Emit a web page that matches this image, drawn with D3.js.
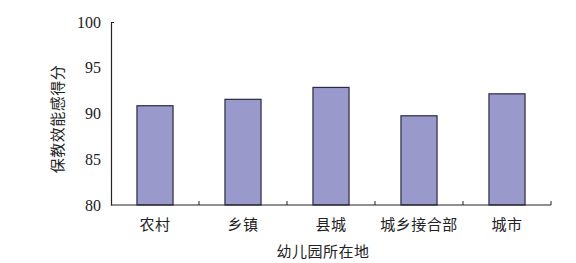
<!DOCTYPE html>
<html>
<head>
<meta charset="utf-8">
<script src="https://cdn.jsdelivr.net/npm/d3@7"></script>
<style>
  body { margin: 0; background: #fff; }
  text { fill: #222; }
</style>
</head>
<body>
<svg id="chart" width="576" height="263"></svg>
<script>
// data
var categories = ["农村", "乡镇", "县城", "城乡接合部", "城市"];
var scores = [90.85, 91.55, 92.85, 89.75, 92.15];
var yTicks = [80, 85, 90, 95, 100];

var svg = d3.select("#chart");
var mLeft = 111, mRight = 551, mTop = 22, mBottom = 205;

var x = d3.scaleBand().domain(categories).range([mLeft, mRight]).paddingInner(0.59).paddingOuter(0.295);
var y = d3.scaleLinear().domain([80, 100]).range([mBottom, mTop]);

var serif = "'Liberation Serif', 'Noto Sans CJK SC', serif";
var cjk = "'Noto Sans CJK SC', 'Liberation Serif', serif";

// bars
svg.selectAll("rect.bar")
  .data(scores)
  .enter().append("rect")
  .attr("class", "bar")
  .attr("x", function(d, i){ return x(categories[i]); })
  .attr("y", function(d){ return y(d); })
  .attr("width", x.bandwidth())
  .attr("height", function(d){ return mBottom - y(d); })
  .attr("fill", "#9999cc")
  .attr("stroke", "#2a2a44")
  .attr("stroke-width", 1.2);

// y axis
var yAxis = d3.axisLeft(y).tickValues(yTicks).tickSize(0).tickPadding(10);
var gy = svg.append("g").attr("transform", "translate(" + mLeft + ",0)").call(yAxis);
gy.select(".domain").attr("stroke", "#222").attr("stroke-width", 1.2);
gy.selectAll("text").attr("font-family", serif).attr("font-size", 16).attr("fill", "#222");
// only the top end has a small inward tick
gy.selectAll(".tick").filter(function(d){ return d === 100; })
  .append("line").attr("x1", 0).attr("x2", 3).attr("stroke", "#222");

// x axis
var gx = svg.append("g").attr("transform", "translate(0," + mBottom + ")");
gx.append("line").attr("x1", mLeft).attr("x2", mRight).attr("stroke", "#222").attr("stroke-width", 1.2);
var bounds = d3.range(1, categories.length + 1).map(function(i){ return mLeft + i * (mRight - mLeft) / categories.length; });
gx.selectAll("line.tk").data(bounds).enter().append("line")
  .attr("class", "tk")
  .attr("x1", function(d){ return d; }).attr("x2", function(d){ return d; })
  .attr("y1", 0).attr("y2", -4)
  .attr("stroke", "#222");
gx.selectAll("text").data(categories).enter().append("text")
  .attr("x", function(d){ return x(d) + x.bandwidth() / 2; })
  .attr("y", 25)
  .attr("text-anchor", "middle")
  .attr("font-family", cjk)
  .attr("font-size", 15)
  .attr("letter-spacing", 0.5)
  .text(function(d){ return d; });

// axis titles
svg.append("text")
  .attr("x", (mLeft + mRight) / 2 - 8)
  .attr("y", 257)
  .attr("text-anchor", "middle")
  .attr("font-family", cjk)
  .attr("font-size", 15)
  .attr("letter-spacing", 0.5)
  .text("幼儿园所在地");

svg.append("text")
  .attr("transform", "translate(63,119) rotate(-90)")
  .attr("text-anchor", "middle")
  .attr("font-family", cjk)
  .attr("font-size", 15)
  .attr("letter-spacing", 0.5)
  .text("保教效能感得分");
</script>
</body>
</html>
